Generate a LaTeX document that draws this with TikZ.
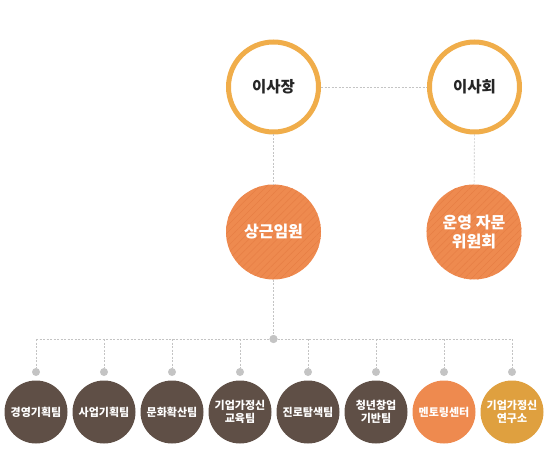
\documentclass[tikz,border=0pt]{standalone}
\usepackage{fontspec}
\setmainfont{Noto Sans CJK KR}
\usetikzlibrary{patterns.meta}
\definecolor{ring}{HTML}{F0AD4A}
\definecolor{orng}{HTML}{EE8A4F}
\definecolor{hatch}{HTML}{E77E45}
\definecolor{brwn}{HTML}{5F4F46}
\definecolor{gold}{HTML}{DFA03F}
\definecolor{link}{HTML}{C4C4C4}
\tikzset{
	top/.style={circle,draw=ring,line width=5pt,fill=white,minimum size=90pt,inner sep=0pt,font=\fontsize{15.5}{17}\selectfont\bfseries,text=black!85},
	mid/.style={circle,fill=orng,minimum size=95pt,inner sep=0pt,align=center,text=white,font=\fontsize{16}{19}\selectfont\bfseries,
		postaction={pattern={Lines[angle=45,distance=5pt,line width=0.5pt]},pattern color=hatch}},
	team/.style={circle,fill=#1,minimum size=63pt,inner sep=0pt,align=center,text=white,font=\fontsize{11}{13.5}\selectfont\bfseries},
	dot/.style={circle,fill=link,minimum size=8pt,inner sep=0pt},
	link/.style={draw=link,dashed,dash pattern=on 2pt off 1.5pt,line width=0.6pt}
}
\begin{document}
\begin{tikzpicture}[x=1pt,y=-1pt]
	\useasboundingbox (0,0) rectangle (547,460);
	\node[top] (chair) at (273.5,87) {이사장};
	\node[top] (board) at (474.5,87) {이사회};
	\node[mid] (exec) at (273.5,232) {상근임원};
	\node[mid] (advis) at (474,232) {운영 자문\\위원회};
	\node[dot] (hub) at (273.5,339) {};
	\draw[link] (chair)--(board);
	\draw[link] (chair)--(exec);
	\draw[link] (board)--(advis);
	\draw[link] (exec)--(hub);
	\foreach \t/\c [count=\i] in {경영기획팀/brwn,사업기획팀/brwn,문화확산팀/brwn,{기업가정신\\교육팀}/brwn,진로탐색팀/brwn,{청년창업\\기반팀}/brwn,멘토링센터/orng,{기업가정신\\연구소}/gold}{
		\coordinate (bus\i) at (36+68*\i-68,339);
		\node[dot] (pin\i) at (36+68*\i-68,372) {};
		\node[team=\c] (team\i) at (36+68*\i-68,412) {\t};
		\draw[link] (bus\i)--(pin\i);
	}
	\draw[link] (bus1)--(bus8);
	\node[dot] at (hub) {};
\end{tikzpicture}
\end{document}
